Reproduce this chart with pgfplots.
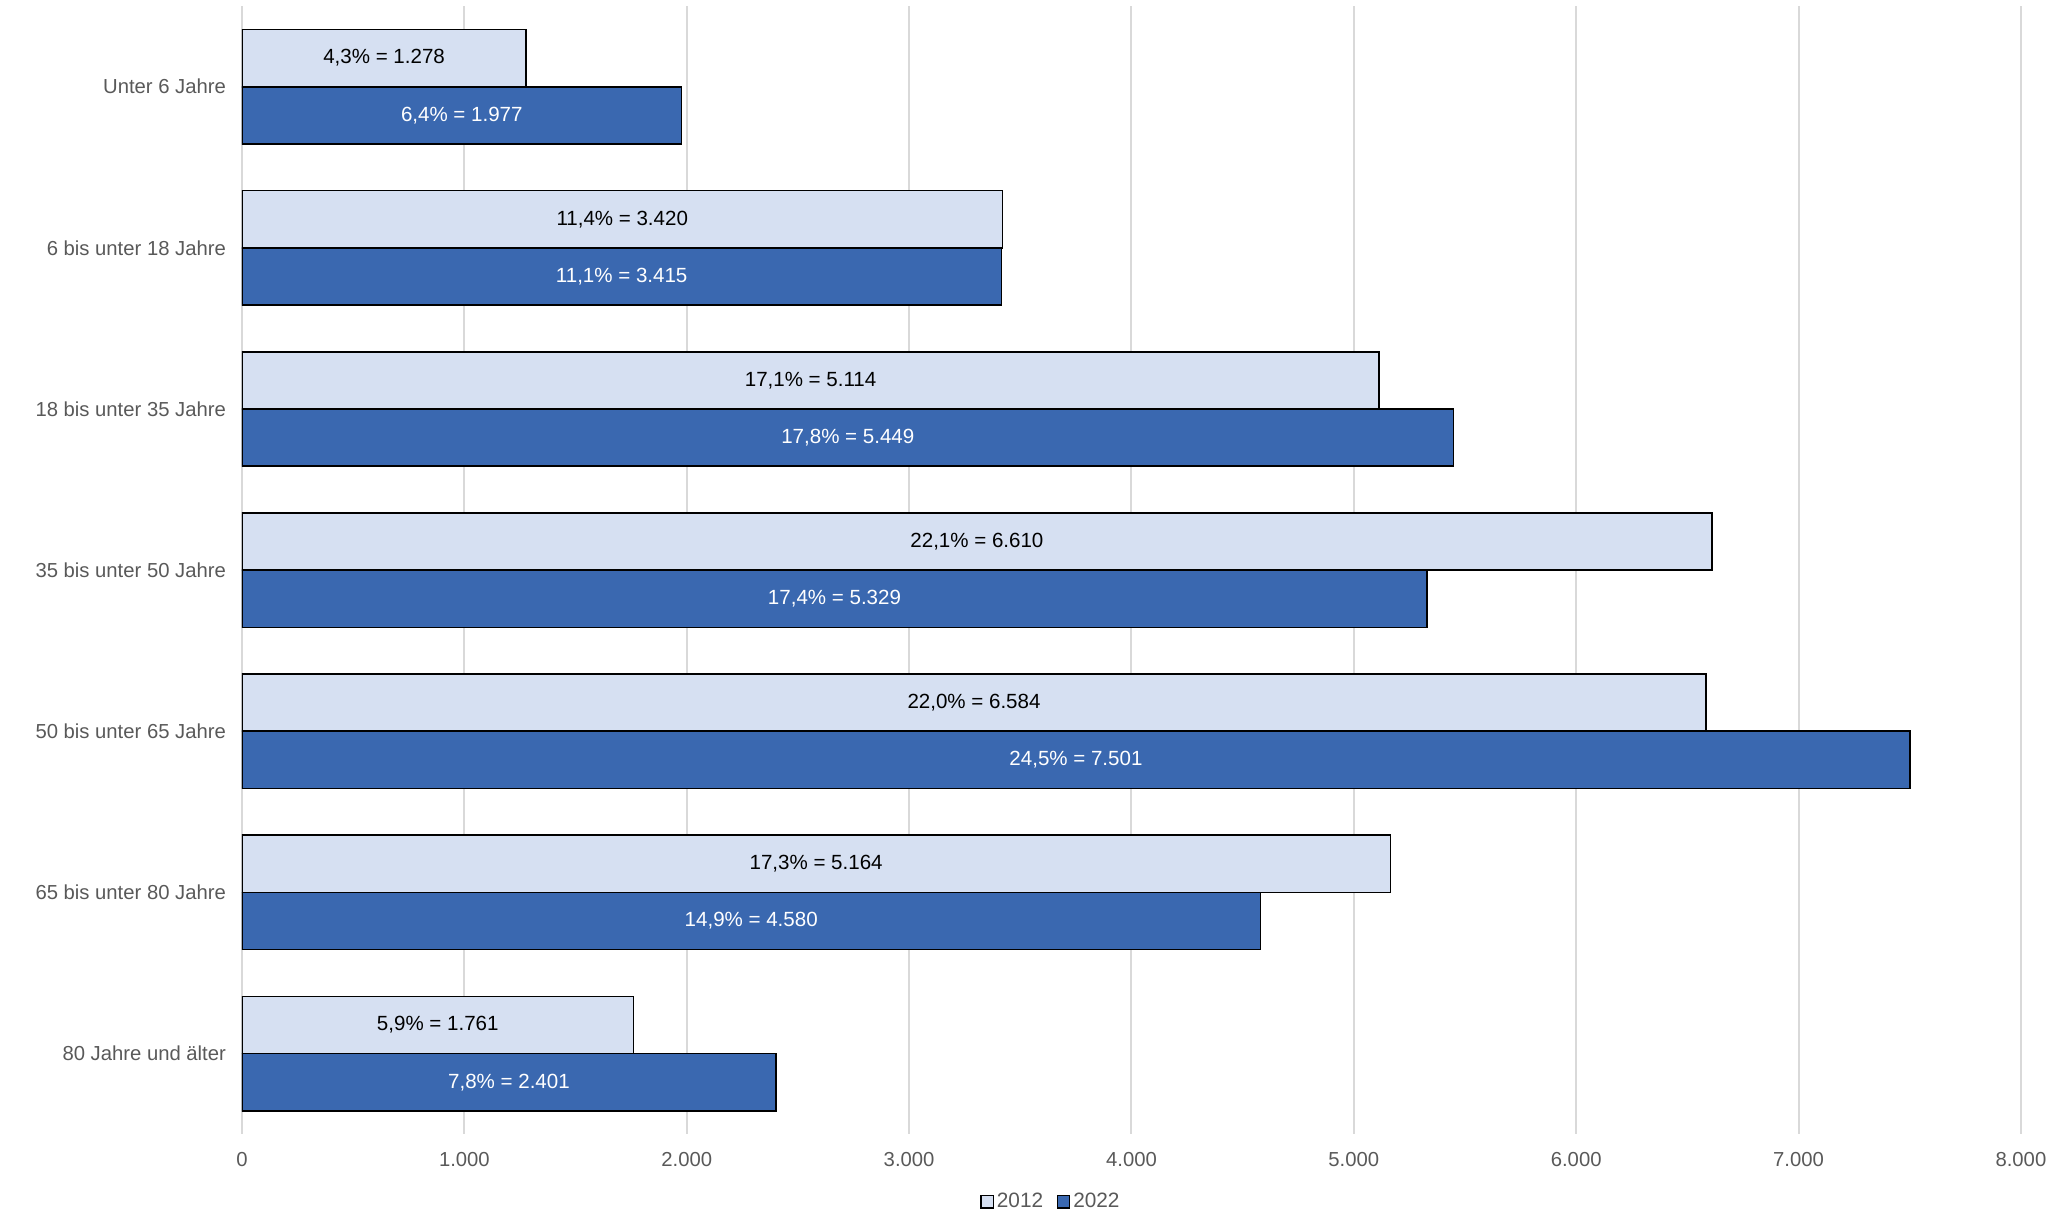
\documentclass[border=0pt]{standalone}
\usepackage{fontspec}
\setmainfont{Liberation Sans}
\usepackage{pgfplots}
\usepackage{pgfplotstable}
\pgfplotsset{compat=1.18}

\definecolor{lightbar}{RGB}{214,224,242}
\definecolor{darkbar}{RGB}{58,104,176}
\definecolor{ticktext}{RGB}{89,89,89}
\definecolor{gridgray}{RGB}{217,217,217}

% Population by age group, 2012 and 2022
\pgfplotstableread[col sep=semicolon]{
cat;v12;l12;v22;l22
0;1278;4,3\% = 1.278;1977;6,4\% = 1.977
1;3420;11,4\% = 3.420;3415;11,1\% = 3.415
2;5114;17,1\% = 5.114;5449;17,8\% = 5.449
3;6610;22,1\% = 6.610;5329;17,4\% = 5.329
4;6584;22,0\% = 6.584;7501;24,5\% = 7.501
5;5164;17,3\% = 5.164;4580;14,9\% = 4.580
6;1761;5,9\% = 1.761;2401;7,8\% = 2.401
}\agedata

\pgfplotsset{
  sqlegend/.style={legend image code/.code={
    \draw[##1,draw=black,line width=0.5pt] (0pt,-2.3pt) rectangle (4.6pt,2.3pt);}},
  barlabel/.style={draw=none, mark=none, forget plot,
    nodes near coords, point meta=explicit symbolic,
    every node near coord/.append style={anchor=center,
      font=\fontsize{7.7}{9}\selectfont, text=#1}},
}

\begin{document}
\begin{tikzpicture}
\useasboundingbox (-90.75pt,-29.6pt) rectangle (679.5pt,425.3pt);
\begin{axis}[
  scale only axis,
  width=667.1pt, height=423pt,
  xmin=0, xmax=8000,
  ymin=-0.5, ymax=6.5,
  y dir=reverse,
  xtick={0,1000,...,8000},
  ytick={0,...,6},
  yticklabels={Unter 6 Jahre, 6 bis unter 18 Jahre, 18 bis unter 35 Jahre,
    35 bis unter 50 Jahre, 50 bis unter 65 Jahre, 65 bis unter 80 Jahre,
    80 Jahre und älter},
  scaled x ticks=false,
  xmajorgrids,
  grid style={gridgray, line width=0.75pt},
  axis line style={draw=none},
  major tick length=0pt,
  tick label style={font=\fontsize{7.6}{9}\selectfont, text=ticktext},
  yticklabel style={xshift=-2.5pt},
  xticklabel style={yshift=-3.2pt},
  /pgf/number format/.cd, 1000 sep={.}, assume math mode=true,
  /pgfplots/.cd,
  legend style={at={(0.455,-0.060)}, anchor=center, draw=none, fill=none,
    font=\fontsize{7.8}{9}\selectfont, text=ticktext,
    nodes={inner xsep=1.1pt},
    /tikz/every even column/.append style={column sep=4pt},
    inner sep=0pt},
  legend columns=2,
]
\addplot[xbar, bar width=0.355, bar shift=-0.1775, fill=lightbar,
  draw=black, line width=0.6pt, sqlegend]
  table[x=v12, y=cat]{\agedata};
\addlegendentry{2012}
\addplot[xbar, bar width=0.355, bar shift=0.1775, fill=darkbar,
  draw=black, line width=0.6pt, sqlegend]
  table[x=v22, y=cat]{\agedata};
\addlegendentry{2022}

% value labels centred in the bars
\addplot[barlabel=black]
  table[x expr=\thisrow{v12}/2, y expr=\thisrow{cat}-0.1775, meta=l12]{\agedata};
\addplot[barlabel=white]
  table[x expr=\thisrow{v22}/2, y expr=\thisrow{cat}+0.1775, meta=l22]{\agedata};
\end{axis}
\end{tikzpicture}
\end{document}
